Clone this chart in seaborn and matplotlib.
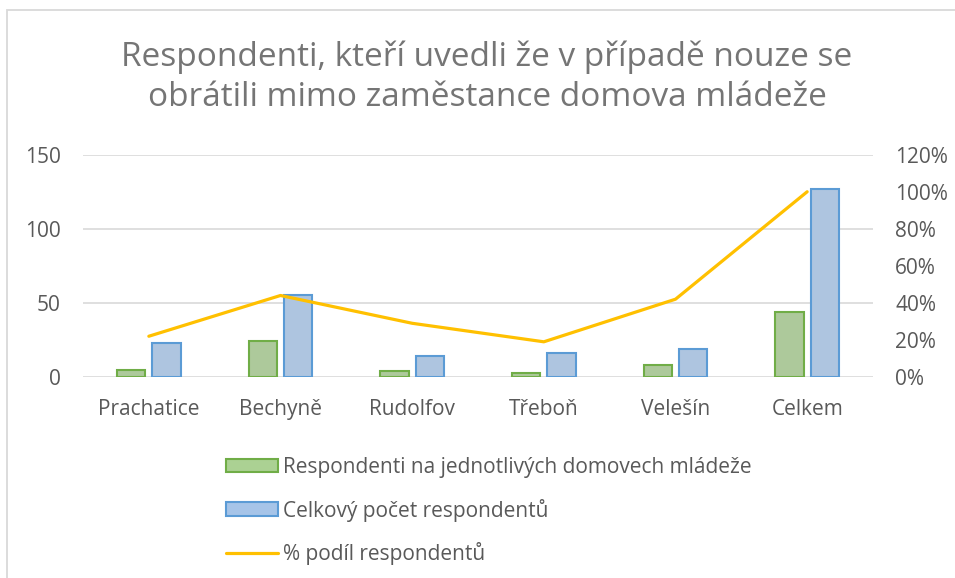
import numpy as np
import pandas as pd
import matplotlib
matplotlib.use("Agg")
import matplotlib.pyplot as plt
import matplotlib.patches as mpatches
import matplotlib.lines as mlines
from matplotlib.ticker import FuncFormatter, MultipleLocator
import seaborn as sns

sns.set_theme(style="white")
plt.rcParams["font.family"] = ["Open Sans", "DejaVu Sans"]

mista = ["Prachatice", "Bechyně", "Rudolfov", "Třeboň", "Velešín", "Celkem"]
respondenti_dm = [5, 24, 4, 3, 8, 44]
celkem_resp = [23, 55, 14, 16, 19, 127]
podil = [0.22, 0.44, 0.29, 0.19, 0.42, 1.00]

nazev_zel = "Respondenti na jednotlivých domovech mládeže"
nazev_mod = "Celkový počet respondentů"
nazev_lin = "% podíl respondentů"

seda = "#595959"
zelena, zelena_okraj = "#ABD193", "#70AD47"
modra, modra_okraj = "#A6C4E8", "#5B9BD5"
zluta = "#FFC000"

df = pd.DataFrame({
    "misto": mista * 2,
    "pocet": respondenti_dm + celkem_resp,
    "serie": [nazev_zel] * len(mista) + [nazev_mod] * len(mista),
})

fig = plt.figure(figsize=(9.55, 5.78), dpi=100)
ax = fig.add_axes([83 / 955, 1 - 377 / 578, 790 / 955, 222.3 / 578])

sns.barplot(
    data=df, x="misto", y="pocet", hue="serie",
    palette={nazev_zel: zelena, nazev_mod: modra},
    width=0.54, gap=0.2, ax=ax, legend=False,
)
for i, bar in enumerate(ax.patches):
    bar.set_edgecolor(zelena_okraj if i < len(mista) else modra_okraj)
    bar.set_linewidth(1.5)

ax.set_ylim(0, 150)
ax.yaxis.set_major_locator(MultipleLocator(50))
ax.set_xlim(-0.5, len(mista) - 0.5)
ax.grid(axis="y", color="#D9D9D9", linewidth=1.2)
ax.set_axisbelow(True)
for s in ax.spines.values():
    s.set_visible(False)
ax.set_xlabel("")
ax.set_ylabel("")
ax.tick_params(axis="both", length=0, labelsize=15, colors=seda)
ax.tick_params(axis="x", pad=16)
ax.tick_params(axis="y", pad=16)

ax2 = ax.twinx()
sns.pointplot(
    x=mista, y=podil, ax=ax2, color=zluta, markers="",
    errorbar=None, linewidth=2.3,
)
ax2.set_ylim(0, 1.2)
ax2.yaxis.set_major_locator(MultipleLocator(0.2))
ax2.yaxis.set_major_formatter(FuncFormatter(lambda v, p: f"{v * 100:.0f}%"))
ax2.set_xlim(-0.5, len(mista) - 0.5)
for s in ax2.spines.values():
    s.set_visible(False)
ax2.tick_params(axis="y", length=0, labelsize=15, colors=seda, pad=16)
ax2.set_ylabel("")

fig.text(487 / 955, 1 - 77 / 578,
         "Respondenti, kteří uvedli že v případě nouze se\nobrátili mimo zaměstance domova mládeže",
         ha="center", va="center", fontsize=24, color="#757575", linespacing=1.28)

handles = [
    mpatches.Patch(facecolor=zelena, edgecolor=zelena_okraj, linewidth=1.5, label=nazev_zel),
    mpatches.Patch(facecolor=modra, edgecolor=modra_okraj, linewidth=1.5, label=nazev_mod),
    mlines.Line2D([], [], color=zluta, linewidth=2.3, label=nazev_lin),
]
leg = fig.legend(
    handles=handles, loc="upper left", bbox_to_anchor=(207 / 955, 1 - 438 / 578),
    frameon=False, fontsize=15, labelcolor=seda, handlelength=2.5,
    handleheight=0.62, handletextpad=0.25, labelspacing=1.0,
)

fig.patches.append(mpatches.Rectangle(
    (7 / 955, -0.05), 1.2, 1 - 10 / 578 + 0.05, transform=fig.transFigure,
    fill=False, edgecolor="#D9D9D9", linewidth=1.3,
))

fig.savefig("out.png", dpi=100)
